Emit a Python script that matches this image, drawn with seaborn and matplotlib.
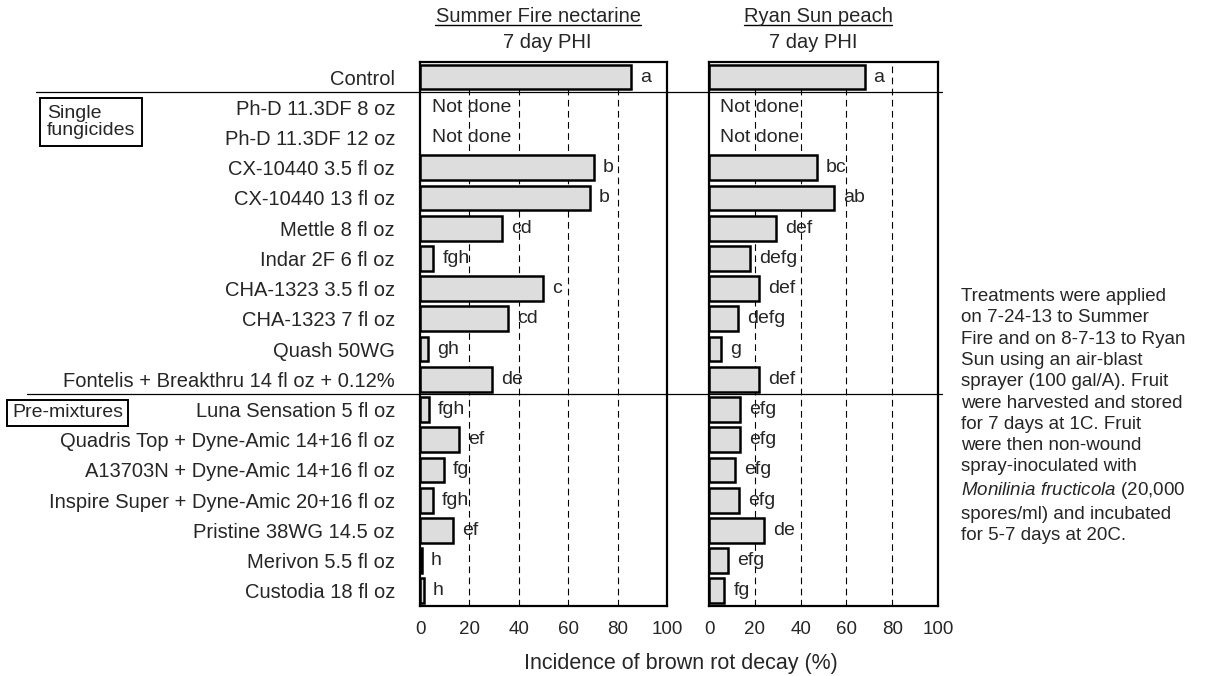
import numpy as np
import pandas as pd
import matplotlib.pyplot as plt
import seaborn as sns
from matplotlib.lines import Line2D
from matplotlib.transforms import blended_transform_factory

# Treatments (top to bottom)
treatments = ["Control", "Ph-D 11.3DF 8 oz", "Ph-D 11.3DF 12 oz", "CX-10440 3.5 fl oz",
              "CX-10440 13 fl oz", "Mettle 8 fl oz", "Indar 2F 6 fl oz", "CHA-1323 3.5 fl oz",
              "CHA-1323 7 fl oz", "Quash 50WG", "Fontelis + Breakthru 14 fl oz + 0.12%",
              "Luna Sensation 5 fl oz", "Quadris Top + Dyne-Amic 14+16 fl oz",
              "A13703N + Dyne-Amic 14+16 fl oz", "Inspire Super + Dyne-Amic 20+16 fl oz",
              "Pristine 38WG 14.5 oz", "Merivon 5.5 fl oz", "Custodia 18 fl oz"]

# Incidence of brown rot (%), NaN = not done
nectarine = [85.4, np.nan, np.nan, 70.4, 68.8, 33.2, 5.4, 49.8, 35.8, 3.4, 29.0,
             3.6, 15.9, 9.6, 5.1, 13.4, 0.7, 1.6]
nectarine_letters = ["a", "", "", "b", "b", "cd", "fgh", "c", "cd", "gh", "de",
                     "fgh", "ef", "fg", "fgh", "ef", "h", "h"]
peach = [67.9, np.nan, np.nan, 47.0, 54.7, 29.3, 17.9, 22.0, 12.8, 5.2, 22.0,
         13.5, 13.5, 11.4, 13.1, 24.2, 8.4, 6.7]
peach_letters = ["a", "", "", "bc", "ab", "def", "defg", "def", "defg", "g", "def",
                 "efg", "efg", "efg", "efg", "de", "efg", "fg"]

panels = [("Summer Fire nectarine", nectarine, nectarine_letters, 538, 547),
          ("Ryan Sun peach", peach, peach_letters, 818, 813)]

sns.set_style("white")
plt.rcParams['font.family'] = ['Liberation Sans', 'DejaVu Sans']
plt.rcParams['mathtext.fontset'] = 'custom'
plt.rcParams['mathtext.rm'] = 'Liberation Sans'
plt.rcParams['mathtext.it'] = 'Liberation Sans:italic'

W, H = 1216, 676
fig = plt.figure(figsize=(12.16, 6.76), dpi=100)
ax1 = fig.add_axes([0.3454, 0.1036, 0.2031, 0.8047])
ax2 = fig.add_axes([0.5831, 0.1036, 0.1883, 0.8047])

titles = []
for ax, (name, vals, letters, tx, px) in zip([ax1, ax2], panels):
    df = pd.DataFrame({'treatment': treatments, 'value': vals})
    sns.barplot(data=df, x='value', y='treatment', order=treatments, orient='h',
                color='#dddddd', saturation=1, edgecolor='black', linewidth=1.8,
                width=0.82, errorbar=None, ax=ax)
    ax.set_xlim(0, 100)
    ax.set_ylim(len(treatments) - 0.5, -0.5)
    ax.set_xticks(range(0, 101, 20))
    ax.set_axisbelow(True)
    for g in [20, 40, 60, 80]:
        ax.axvline(g, color='black', lw=0.8, linestyle=(0, (6, 4)), zorder=0)
    for s in ax.spines.values():
        s.set_color('black')
        s.set_linewidth(1.6)
    ax.tick_params(axis='x', length=0, pad=11, labelsize=13.5)
    ax.set_xlabel('')
    ax.set_ylabel('')
    for i, (v, lab) in enumerate(zip(vals, letters)):
        if np.isnan(v):
            ax.text(5, i, "Not done", va='center', ha='left', fontsize=14)
        else:
            ax.annotate(lab, (v, i), xytext=(6.5, 0), textcoords='offset points',
                        va='center', ha='left', fontsize=14)
    titles.append(fig.text(tx / W, 1 - 17 / H, name, ha='center', va='center', fontsize=14.5))
    fig.text(px / W, 1 - 42 / H, '7 day PHI', ha='center', va='center', fontsize=14.5)

ax1.tick_params(axis='y', length=0, pad=18, labelsize=14.5)
ax2.set_yticklabels([])
ax2.tick_params(axis='y', length=0)

# group separators
trans = blended_transform_factory(fig.transFigure, ax1.transData)
fig.add_artist(Line2D([36 / W, 942 / W], [0.5, 0.5], transform=trans, color='black', lw=0.9))
fig.add_artist(Line2D([27 / W, 942 / W], [10.5, 10.5], transform=trans, color='black', lw=0.9))

box = dict(boxstyle='square,pad=0.35', facecolor='white', edgecolor='black', lw=1.4)
fig.text(47 / W, 1 - 122 / H, "Single\nfungicides", ha='left', va='center',
         fontsize=14, bbox=box, linespacing=1.05)
fig.text(12 / W, 1 - 413 / H, "Pre-mixtures", ha='left', va='center',
         fontsize=14, bbox=dict(boxstyle='square,pad=0.25', facecolor='white',
                                edgecolor='black', lw=1.4))

fig.text(681 / W, 1 - 663 / H, "Incidence of brown rot decay (%)", ha='center',
         va='center', fontsize=15.5)

note = ("Treatments were applied\non 7-24-13 to Summer\nFire and on 8-7-13 to Ryan\n"
        "Sun using an air-blast\nsprayer (100 gal/A). Fruit\nwere harvested and stored\n"
        "for 7 days at 1C. Fruit\nwere then non-wound\nspray-inoculated with\n"
        r"$\mathit{Monilinia\ fructicola}$ (20,000" "\nspores/ml) and incubated\n"
        "for 5-7 days at 20C.")
fig.text(961 / W, 1 - 416 / H, note, ha='left', va='center', fontsize=13.5,
         linespacing=1.33)

# underline the cultivar titles
fig.canvas.draw()
inv = fig.transFigure.inverted()
for t in titles:
    bb = t.get_window_extent()
    (x0, y0), (x1, _) = inv.transform([(bb.x0, bb.y0), (bb.x1, bb.y1)])
    fig.add_artist(Line2D([x0, x1], [y0 + 0.002, y0 + 0.002], color='black', lw=1.0))

plt.savefig('out.png', dpi=100)
